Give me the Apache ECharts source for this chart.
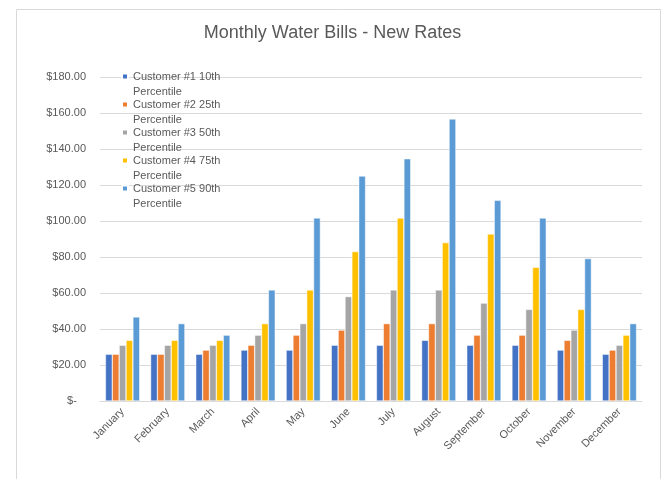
<!DOCTYPE html>
<html>
<head>
<meta charset="utf-8">
<script src="https://cdn.jsdelivr.net/npm/echarts@6/dist/echarts.min.js"></script>
<style>html,body{margin:0;padding:0;background:#fff;}#c{width:665px;height:479px;}</style>
</head>
<body>
<div id="c"></div>
<script>
const months = ['January','February','March','April','May','June','July','August','September','October','November','December'];
const seriesNames = ['Customer #1 10th\nPercentile','Customer #2 25th\nPercentile','Customer #3 50th\nPercentile','Customer #4 75th\nPercentile','Customer #5 90th\nPercentile'];
const cust1 = [26, 26, 26, 28.3, 28.3, 31, 31, 33.7, 31, 31, 28.3, 26];
const cust2 = [26, 26, 28.3, 31, 36.6, 39.4, 43, 43, 36.6, 36.6, 33.7, 28.3];
const cust3 = [31, 31, 31, 36.6, 43, 58, 61.7, 61.7, 54.4, 50.9, 39.4, 31];
const cust4 = [33.7, 33.7, 33.7, 43, 61.7, 83, 101.7, 88, 92.8, 74.3, 50.9, 36.6];
const cust5 = [46.7, 43, 36.6, 61.7, 101.7, 125, 134.6, 156.7, 111.5, 101.7, 79.1, 43];
const yTicks = {min: 0, max: 180, interval: 20};
const colors = ['#4472C4','#ED7D31','#A5A5A5','#FFC000','#5B9BD5'];

const chart = echarts.init(document.getElementById('c'), null, {renderer: 'canvas'});
const allData = [cust1, cust2, cust3, cust4, cust5];
chart.setOption({
  animation: false,
  color: colors,
  textStyle: {fontFamily: 'Liberation Sans, Arial, sans-serif'},
  graphic: [{
    type: 'rect', left: 14, top: 7, shape: {width: 644, height: 480},
    style: {fill: 'none', stroke: '#d9d9d9', lineWidth: 1}, z: -10
  }],
  title: {
    text: 'Monthly Water Bills - New Rates',
    left: 'center', top: 19,
    textStyle: {fontSize: 18, fontWeight: 'normal', color: '#595959'}
  },
  legend: {
    orient: 'vertical', left: 121, top: 54, padding: 0,
    itemWidth: 6, itemHeight: 6, itemGap: -17,
    icon: 'rect',
    formatter: name => '\n' + name,
    textStyle: {fontSize: 11, color: '#595959', lineHeight: 15},
    data: seriesNames
  },
  grid: {left: 100, right: 23, top: 77, bottom: 78, containLabel: false},
  xAxis: {
    type: 'category', data: months,
    axisLine: {lineStyle: {color: '#d9d9d9'}},
    axisTick: {show: false},
    axisLabel: {rotate: 45, fontSize: 11, color: '#595959', margin: 9, interval: 0}
  },
  yAxis: {
    type: 'value', min: yTicks.min, max: yTicks.max, interval: yTicks.interval,
    axisLine: {show: false}, axisTick: {show: false},
    splitLine: {lineStyle: {color: '#d9d9d9'}},
    axisLabel: {fontSize: 11, color: '#595959', margin: 14,
      formatter: v => v === 0 ? '$-   ' : '$' + v.toFixed(2)}
  },
  series: seriesNames.map((n, i) => ({
    name: n, type: 'bar', data: allData[i],
    barGap: '0%', barCategoryGap: '24%',
    itemStyle: {borderColor: '#fff', borderWidth: 0.5}
  }))
});
</script>
</body>
</html>
